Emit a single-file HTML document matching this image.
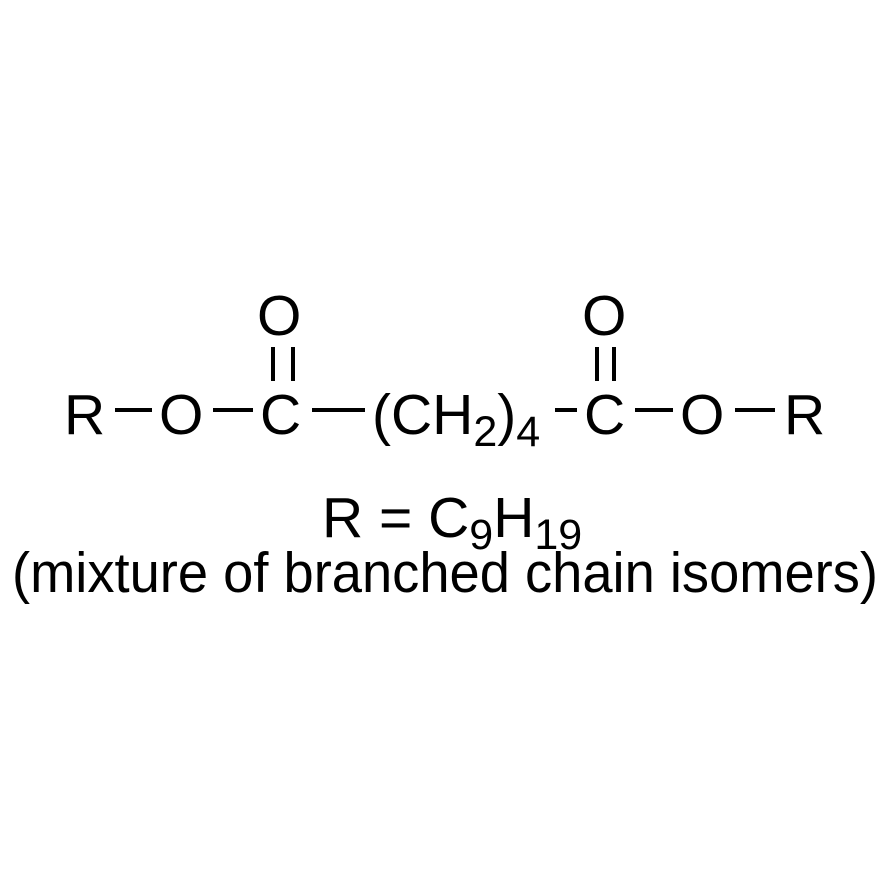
<!DOCTYPE html>
<html><head><meta charset="utf-8"><style>html,body{margin:0;padding:0;background:#fff}svg{display:block}</style></head>
<body>
<svg width="890" height="890" viewBox="0 0 890 890" xmlns="http://www.w3.org/2000/svg">
<rect width="890" height="890" fill="#fff"/>
<g font-family="Liberation Sans, Arial, sans-serif" font-size="57" fill="#000">
<text x="64" y="434">R</text>
<text x="159" y="434">O</text>
<text x="260" y="434">C</text>
<text x="257" y="335">O</text>
<text x="372" y="434">(CH<tspan font-size="43" dy="12">2</tspan><tspan dy="-12">)</tspan><tspan font-size="43" dy="12">4</tspan></text>
<text x="584" y="434">C</text>
<text x="582" y="335">O</text>
<text x="680" y="434">O</text>
<text x="784" y="434">R</text>
<text x="322" y="537">R = C<tspan font-size="43" dy="12">9</tspan><tspan dy="-12">H</tspan><tspan font-size="43" dy="12">19</tspan></text>
<text x="12" y="592" textLength="866" lengthAdjust="spacingAndGlyphs">(mixture of branched chain isomers)</text>
</g>
<g stroke="#000" stroke-width="4">
<line x1="115" y1="410" x2="152" y2="410"/>
<line x1="213" y1="410" x2="253" y2="410"/>
<line x1="312" y1="410" x2="365" y2="410"/>
<line x1="555" y1="410" x2="577" y2="410"/>
<line x1="635" y1="410" x2="673" y2="410"/>
<line x1="735" y1="410" x2="775" y2="410"/>
<line x1="273" y1="347" x2="273" y2="381"/>
<line x1="293" y1="347" x2="293" y2="381"/>
<line x1="597" y1="347" x2="597" y2="381"/>
<line x1="614" y1="347" x2="614" y2="381"/>
</g>
</svg>
</body></html>
